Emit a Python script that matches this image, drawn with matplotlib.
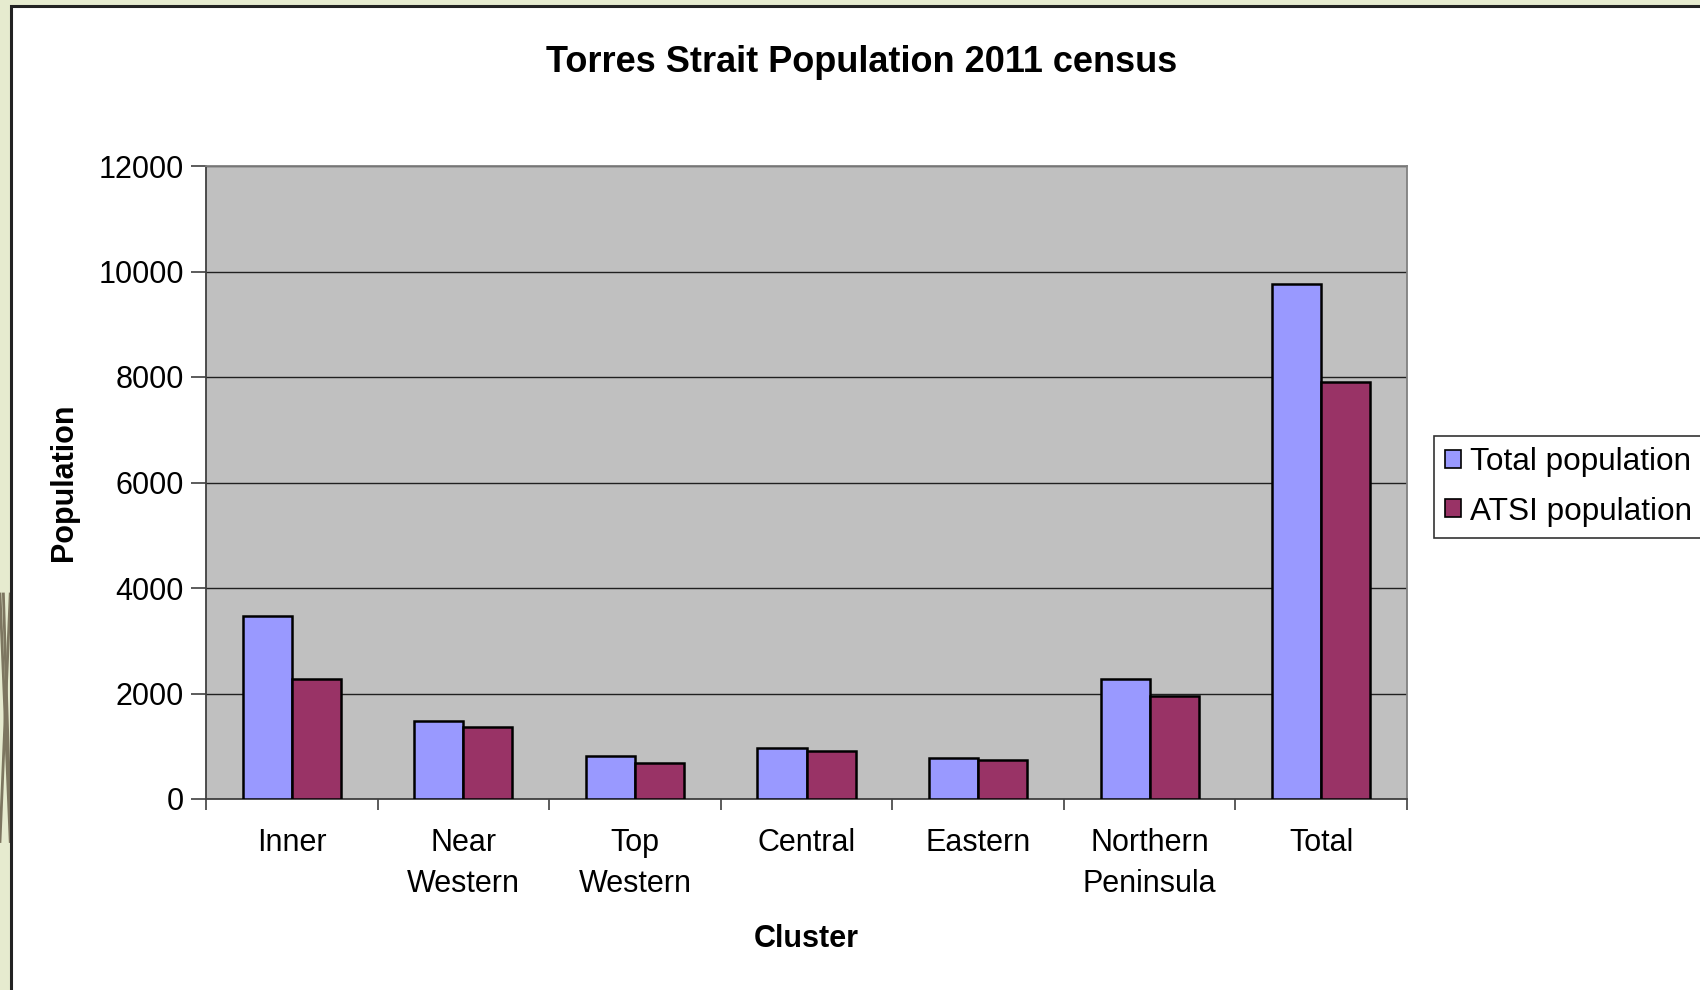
import numpy as np
import matplotlib
matplotlib.use("Agg")
import matplotlib.pyplot as plt
from matplotlib.patches import Rectangle, Patch

plt.rcParams['font.family'] = ['Liberation Sans', 'DejaVu Sans']

clusters = ["Inner", "Near\nWestern", "Top\nWestern", "Central", "Eastern",
            "Northern\nPeninsula", "Total"]
total_pop = [3470, 1470, 820, 960, 780, 2280, 9760]
atsi_pop = [2280, 1370, 690, 910, 730, 1960, 7910]
series_names = ["Total population", "ATSI population"]
yticks = [0, 2000, 4000, 6000, 8000, 10000, 12000]

W, H = 1700, 990
fig = plt.figure(figsize=(W / 100, H / 100), dpi=100)
fig.patch.set_facecolor('#e6ebcf')

# white slide panel with dark frame
fig.patches.append(Rectangle((11 / W, -0.1), 1.2, 1 - 6 / H + 0.1,
                             transform=fig.transFigure, facecolor='white',
                             edgecolor='#222222', linewidth=2.2, zorder=-3))
# a few decorative strokes in the left strip
for x0, x1 in [(0.0, 0.006), (0.006, 0.0), (0.002, 0.0065)]:
    fig.add_artist(plt.Line2D([x0, x1], [0.40, 0.15], transform=fig.transFigure,
                              color='#7d7660', linewidth=2, zorder=-4))

ax = fig.add_axes([206 / W, 1 - 799 / H, (1407 - 206) / W, (799 - 166) / H])
ax.set_facecolor('#c0c0c0')

x = np.arange(len(clusters))
bw = 1 / 3.5
ax.bar(x - bw / 2, total_pop, bw, color='#9999ff', edgecolor='black',
       linewidth=1.8, zorder=3)
ax.bar(x + bw / 2, atsi_pop, bw, color='#993366', edgecolor='black',
       linewidth=1.8, zorder=3)

ax.set_xlim(-0.5, len(clusters) - 0.5)
ax.set_ylim(0, 12000)
ax.set_yticks(yticks)
ax.yaxis.grid(True, color='#202020', linewidth=1.0, zorder=1)
ax.set_axisbelow(True)

ax.set_xticks(np.arange(len(clusters) + 1) - 0.5)
ax.set_xticklabels([])
ax.set_xticks(x, minor=True)
ax.set_xticklabels(clusters, minor=True, fontsize=22, linespacing=1.45)
ax.tick_params(axis='x', which='major', direction='out', length=8,
               width=1.2, color='#404040')
ax.tick_params(axis='x', which='minor', length=0, pad=21)
ax.tick_params(axis='y', direction='out', length=11, width=1.2,
               color='#404040', labelsize=22, pad=5)

for side in ['left', 'bottom']:
    ax.spines[side].set_color('#404040')
    ax.spines[side].set_linewidth(1.3)
for side in ['top', 'right']:
    ax.spines[side].set_color('#808080')
    ax.spines[side].set_linewidth(1.3)

fig.text(862 / W, 1 - 62 / H, "Torres Strait Population 2011 census",
         ha='center', va='center', fontsize=26, fontweight='bold')
fig.text(64 / W, 1 - 482 / H, "Population", rotation=90, ha='center',
         va='center', fontsize=22, fontweight='bold')
fig.text(806 / W, 1 - 939 / H, "Cluster", ha='center', va='center',
         fontsize=22, fontweight='bold')

handles = [Patch(facecolor='#9999ff', edgecolor='black', linewidth=1.2),
           Patch(facecolor='#993366', edgecolor='black', linewidth=1.2)]
leg = fig.legend(handles, series_names, loc='upper left',
                 bbox_to_anchor=(1434 / W, 1 - 436 / H), fontsize=22.7,
                 frameon=True, fancybox=False, handlelength=0.5,
                 handleheight=0.5, handletextpad=0.3, borderpad=0.35,
                 labelspacing=0.62, borderaxespad=0)
leg.get_frame().set_edgecolor('black')
leg.get_frame().set_linewidth(1.2)

fig.savefig("out.png", dpi=100, facecolor=fig.get_facecolor())
